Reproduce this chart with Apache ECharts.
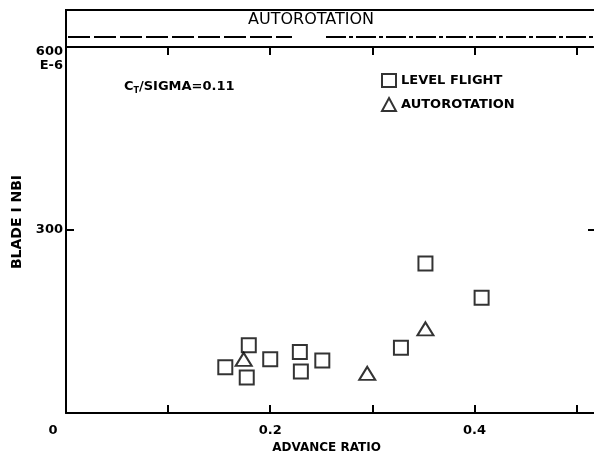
<!DOCTYPE html>
<html>
<head>
<meta charset="utf-8">
<script src="https://cdn.jsdelivr.net/npm/echarts@6/dist/echarts.min.js"></script>
<style>
  html, body { margin: 0; padding: 0; background: #fff; }
  #main { width: 594px; height: 455px; }
</style>
</head>
<body>
<div id="main"></div>
<script>
// advance ratio / blade bending (E-6)
var levelFlightX = [0.156, 0.179, 0.177, 0.200, 0.229, 0.230, 0.251, 0.328, 0.352, 0.407];
var levelFlightY = [75, 111, 58, 88, 100, 68, 86, 107, 245, 189];
var autoX = [0.174, 0.295, 0.352];
var autoY = [88, 65, 138];
var xTickLabels = { '0': '0', '0.2': '0.2', '0.4': '0.4' };
var yTickLabels = { '300': '300', '600': '600' };

function pairs(xs, ys) {
    return xs.map(function (x, i) { return [x, ys[i]]; });
}

var font = 'DejaVu Sans';
var ink = '#000';

var myChart = echarts.init(document.getElementById('main'));

var option = {
    animation: false,
    textStyle: { fontFamily: font, color: ink },
    // plot runs a little past the right edge of the page, like the scan
    grid: { left: 66, width: 531, top: 47, bottom: 42, outerBoundsMode: 'none' },
    title: {
        text: 'C{sub|T}/SIGMA=0.11',
        left: 119,
        top: 74,
        textStyle: {
            fontFamily: font, fontSize: 13, fontWeight: 'bold', color: ink,
            rich: { sub: { fontSize: 8, fontWeight: 'bold', verticalAlign: 'bottom', padding: [8, 0, 0, 0] } }
        }
    },
    legend: {
        data: ['LEVEL FLIGHT', 'AUTOROTATION'],
        orient: 'vertical',
        left: 376,
        top: 68,
        itemWidth: 14,
        itemHeight: 13,
        itemGap: 9,
        textStyle: { fontFamily: font, fontSize: 13, fontWeight: 'bold', color: ink }
    },
    xAxis: [
        {
            type: 'value',
            min: 0, max: 0.52, interval: 0.1,
            name: 'ADVANCE RATIO',
            nameLocation: 'middle',
            nameGap: 27,
            nameTextStyle: { fontFamily: font, fontSize: 12, fontWeight: 'bold', color: ink, padding: [0, 10, 0, 0] },
            axisLine: { onZero: false, lineStyle: { color: ink, width: 2 } },
            axisTick: { inside: true, length: 8, lineStyle: { color: ink, width: 2 } },
            splitLine: { show: false },
            axisLabel: {
                margin: 11,
                fontFamily: font, fontSize: 13, fontWeight: 'bold', color: ink,
                formatter: function (v) {
                    var k = String(Math.round(v * 10) / 10);
                    if (k === '0') return '{z|0}';
                    return xTickLabels[k] || '';
                },
                rich: { z: { fontFamily: font, fontSize: 13, fontWeight: 'bold', padding: [0, 26, 0, 0] } }
            }
        },
        {
            type: 'value',
            position: 'top',
            min: 0, max: 0.52, interval: 0.1,
            axisLine: { onZero: false, lineStyle: { color: ink, width: 2 } },
            axisTick: { inside: true, length: 8, lineStyle: { color: ink, width: 2 } },
            axisLabel: { show: false },
            splitLine: { show: false }
        }
    ],
    yAxis: [
        {
            type: 'value',
            min: 0, max: 600, interval: 300,
            name: 'BLADE I NBI',
            nameLocation: 'middle',
            nameRotate: 90,
            nameGap: 42,
            nameTextStyle: { fontFamily: font, fontSize: 14, fontWeight: 'bold', color: ink, padding: [0, 0, 0, 16] },
            axisLine: { onZero: false, lineStyle: { color: ink, width: 2 } },
            axisTick: { inside: true, length: 8, lineStyle: { color: ink, width: 2 } },
            splitLine: { show: false },
            axisLabel: {
                margin: 3,
                fontFamily: font, fontSize: 13, fontWeight: 'bold', color: ink,
                formatter: function (v) {
                    if (v === 600) return '{s| }\n{b|600}\n{b|E-6}';
                    return yTickLabels[String(v)] || '';
                },
                rich: {
                    s: { lineHeight: 24, fontSize: 4 },
                    b: { fontFamily: font, fontSize: 13, fontWeight: 'bold', lineHeight: 14, color: ink }
                }
            }
        },
        {
            type: 'value',
            position: 'right',
            min: 0, max: 600, interval: 300,
            axisLine: { onZero: false, lineStyle: { color: ink, width: 2 } },
            axisTick: { inside: true, length: 9, lineStyle: { color: ink, width: 2 } },
            axisLabel: { show: false },
            splitLine: { show: false }
        }
    ],
    graphic: [
        { type: 'line', shape: { x1: 66, y1: 10, x2: 594, y2: 10 }, style: { stroke: ink, lineWidth: 2 } },
        { type: 'line', shape: { x1: 66, y1: 9, x2: 66, y2: 47 }, style: { stroke: ink, lineWidth: 2 } },
        { type: 'line', shape: { x1: 68, y1: 37, x2: 292, y2: 37 }, style: { stroke: ink, lineWidth: 2, lineDash: [22, 4] } },
        { type: 'line', shape: { x1: 326, y1: 37, x2: 594, y2: 37 }, style: { stroke: ink, lineWidth: 2, lineDash: [20, 3, 4, 3] } },
        {
            type: 'text', left: 248, top: 12,
            style: { text: 'AUTOROTATION', fontFamily: font, fontSize: 16, fill: ink }
        }
    ],
    series: [
        {
            name: 'LEVEL FLIGHT',
            type: 'scatter',
            symbol: 'emptyRect',
            symbolSize: 14,
            itemStyle: { color: ink, borderWidth: 2 },
            data: pairs(levelFlightX, levelFlightY)
        },
        {
            name: 'AUTOROTATION',
            type: 'scatter',
            symbol: 'emptyTriangle',
            symbolSize: [16, 13],
            itemStyle: { color: ink, borderWidth: 2 },
            data: pairs(autoX, autoY)
        }
    ]
};

myChart.setOption(option);
window.onresize = myChart.resize;
</script>
</body>
</html>
